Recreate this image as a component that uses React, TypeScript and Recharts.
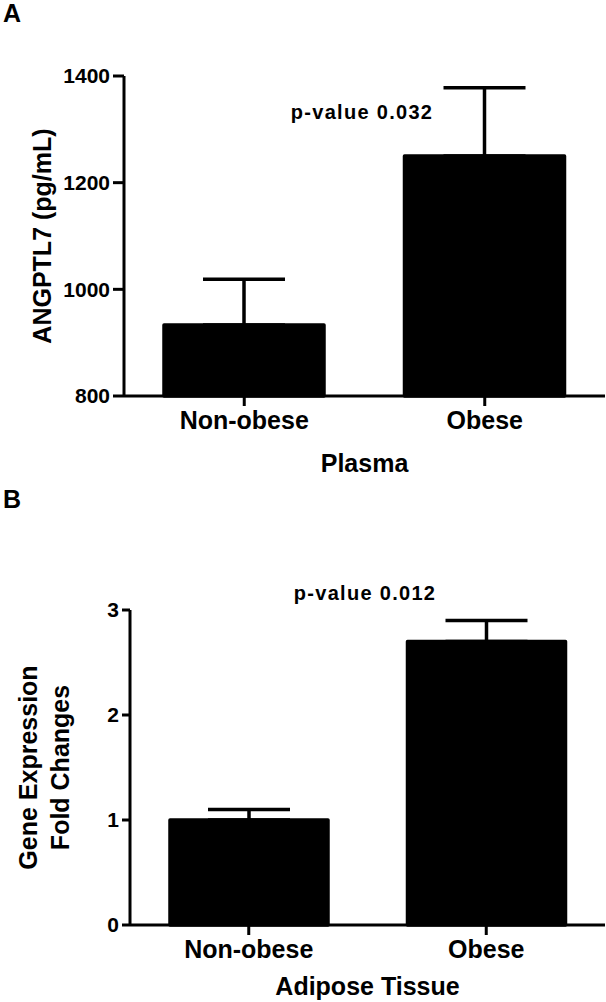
import React from 'react';
import { BarChart, Bar, XAxis, YAxis, ErrorBar, Label, Customized } from 'recharts';

// groups on the x axis (same in both panels)
const categories = ['Non-obese', 'Obese'];

// panel A: plasma ANGPTL7, mean and upper SEM
const plasmaMean = [933, 1250];
const plasmaErr = [86, 128];
const plasmaTicks = [800, 1000, 1200, 1400];

// panel B: adipose tissue fold change
const tissueMean = [1.0, 2.7];
const tissueErr = [0.1, 0.2];
const tissueTicks = [0, 1, 2, 3];

const FONT = 'Arial, "Liberation Sans", sans-serif';

// only the upper whisker is shown, like the GraphPad original
const plasmaData = categories.map((name, i) => ({ name, value: plasmaMean[i], err: [0, plasmaErr[i]] }));
const tissueData = categories.map((name, i) => ({ name, value: tissueMean[i], err: [0, tissueErr[i]] }));

const tickStyle = { fontSize: 21, fontWeight: 'bold', fill: '#000', fontFamily: FONT };
const catStyle = { fontSize: 25, fontWeight: 'bold', fill: '#000', fontFamily: FONT };

// rotated y-axis title, one or more lines
const yTitle = (lines: string[], xs: number[]) => (props: any) => {
  const vb = props.viewBox;
  const cy = vb.y + vb.height / 2;
  return (
    <g>
      {lines.map((t, i) => (
        <text
          key={t}
          x={xs[i]}
          y={cy}
          transform={`rotate(-90 ${xs[i]} ${cy})`}
          textAnchor="middle"
          dominantBaseline="central"
          fontSize={25}
          fontWeight="bold"
          fontFamily={FONT}
          fill="#000"
        >
          {t}
        </text>
      ))}
    </g>
  );
};

const Note = ({ x, y, text }: { x: number; y: number; text: string }) => (
  <text x={x} y={y} textAnchor="middle" dominantBaseline="central" fontSize={20} fontWeight="bold"
    fontFamily={FONT} letterSpacing={1.3} fill="#000">
    {text}
  </text>
);

const PanelLetter = ({ y, text }: { y: number; text: string }) => (
  <text x={3} y={y} fontSize={25} fontWeight="bold" fontFamily={FONT} fill="#000">{text}</text>
);

const App: React.FC = () => {
  return (
    <div style={{ position: 'absolute', left: 0, top: 0, width: 606, height: 1002, background: '#fff' }}>
      {/* A: Plasma */}
      <div style={{ position: 'absolute', left: 0, top: 0 }}>
        <BarChart width={606} height={490} data={plasmaData} margin={{ top: 76, right: 1, left: 0, bottom: 36 }}>
          <XAxis dataKey="name" height={58} stroke="#000" strokeWidth={3} tickSize={10} tickMargin={5}
            tick={catStyle} tickLine={{ stroke: '#000', strokeWidth: 3 }}>
            <Label value="Plasma" position="bottom" offset={0} style={catStyle} />
          </XAxis>
          <YAxis width={124} domain={[800, 1400]} ticks={plasmaTicks} stroke="#000" strokeWidth={3}
            tickSize={11} tickMargin={3} tick={tickStyle} tickLine={{ stroke: '#000', strokeWidth: 3 }}>
            <Label content={yTitle(['ANGPTL7 (pg/mL)'], [42])} />
          </YAxis>
          <Bar dataKey="value" fill="#000" stroke="#000" strokeWidth={3.5} strokeLinejoin="round"
            barSize={160} isAnimationActive={false}>
            <ErrorBar dataKey="err" width={41} stroke="#000" strokeWidth={3.5} isAnimationActive={false} />
          </Bar>
          <Customized component={() => (
            <g>
              <PanelLetter y={22} text="A" />
              <Note x={362} y={112} text="p-value 0.032" />
            </g>
          )} />
        </BarChart>
      </div>

      {/* B: Adipose tissue */}
      <div style={{ position: 'absolute', left: 0, top: 470 }}>
        <BarChart width={606} height={532} data={tissueData} margin={{ top: 140, right: 1, left: 0, bottom: 25 }}>
          <XAxis dataKey="name" height={52} stroke="#000" strokeWidth={3} tickSize={10} tickMargin={5}
            tick={catStyle} tickLine={{ stroke: '#000', strokeWidth: 3 }}>
            <Label value="Adipose Tissue" position="bottom" offset={0} style={catStyle} />
          </XAxis>
          <YAxis width={130} domain={[0, 3]} ticks={tissueTicks} stroke="#000" strokeWidth={3}
            tickSize={8} tickMargin={3} tick={tickStyle} tickLine={{ stroke: '#000', strokeWidth: 3 }}>
            <Label content={yTitle(['Gene Expression', 'Fold Changes'], [28, 60])} />
          </YAxis>
          <Bar dataKey="value" fill="#000" stroke="#000" strokeWidth={3.5} strokeLinejoin="round"
            barSize={158} isAnimationActive={false}>
            <ErrorBar dataKey="err" width={41} stroke="#000" strokeWidth={3.5} isAnimationActive={false} />
          </Bar>
          <Customized component={() => (
            <g>
              <PanelLetter y={38} text="B" />
              <Note x={365} y={123} text="p-value 0.012" />
            </g>
          )} />
        </BarChart>
      </div>
    </div>
  );
};

export default App;
